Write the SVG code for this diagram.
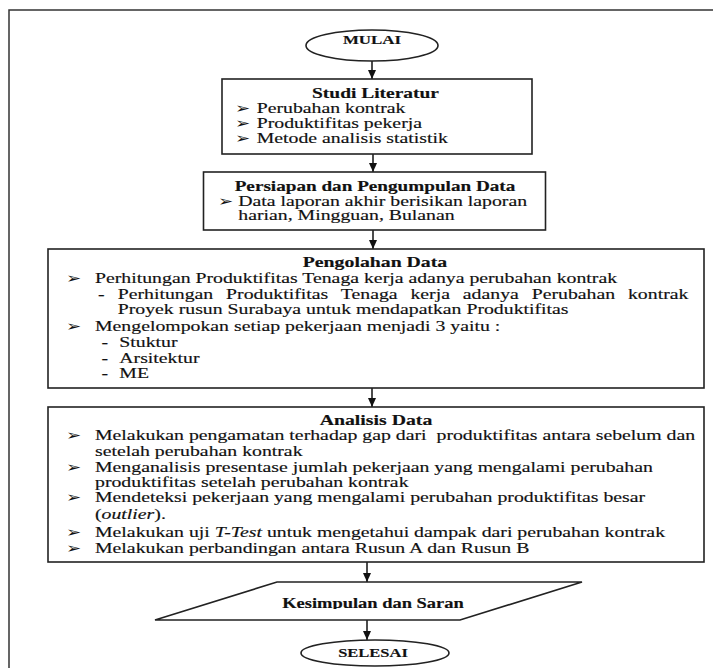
<svg xmlns="http://www.w3.org/2000/svg" width="713" height="668" viewBox="0 0 713 668">
<style>
.frame{fill:none;stroke:#333;stroke-width:1.5}
.box{fill:#fff;stroke:#222;stroke-width:1.6}
.t{font-family:"Liberation Serif","Times New Roman",serif;font-size:14px;fill:#111;stroke:#111;stroke-width:0.15}
.b{font-weight:bold}
.c{text-anchor:middle}
.i{font-style:italic}
.bl{font-family:"DejaVu Sans",sans-serif;font-size:14px;fill:#111}
.edge{stroke:#111;stroke-width:1.5;fill:none}
</style>
<defs>
<marker id="ah" markerUnits="userSpaceOnUse" markerWidth="10" markerHeight="10" viewBox="0 0 10 10" refX="9" refY="5" orient="auto">
<path d="M0,1 L9,5 L0,9 Z" fill="#111"/>
</marker>
<clipPath id="kclip"><rect x="150" y="590" width="450" height="19"/></clipPath>
</defs>
<rect class="frame" x="9" y="10" width="720" height="700"/>

<g id="connectors">
<line class="edge" x1="372" y1="61" x2="372" y2="79" marker-end="url(#ah)"/>
<line class="edge" x1="373" y1="154" x2="373" y2="172" marker-end="url(#ah)"/>
<line class="edge" x1="373" y1="230" x2="373" y2="249" marker-end="url(#ah)"/>
<line class="edge" x1="372" y1="388" x2="372" y2="407" marker-end="url(#ah)"/>
<line class="edge" x1="367" y1="562" x2="367" y2="582" marker-end="url(#ah)"/>
<line class="edge" x1="367" y1="620" x2="367" y2="640" marker-end="url(#ah)"/>
</g>

<g id="mulai">
<ellipse class="box" cx="372" cy="45.5" rx="66" ry="15.5"/>
<text class="t b c" transform="translate(372,44) scale(1.3,1)" style="font-size:13px">MULAI</text>
</g>

<g id="studi">
<rect class="box" x="222" y="79" width="310" height="75"/>
<text class="t b c" transform="translate(375.5,98) scale(1.39,1)">Studi Literatur</text>
<text class="bl" transform="translate(235,112.5) scale(1.3,1)">➢</text>
<text class="t" transform="translate(256.7,113) scale(1.414,1)">Perubahan kontrak</text>
<text class="bl" transform="translate(235,127.5) scale(1.3,1)">➢</text>
<text class="t" transform="translate(256.7,128) scale(1.414,1)">Produktifitas pekerja</text>
<text class="bl" transform="translate(235,142.5) scale(1.3,1)">➢</text>
<text class="t" transform="translate(256.7,143) scale(1.414,1)">Metode analisis statistik</text>
</g>

<g id="persiapan">
<rect class="box" x="203.5" y="172" width="342" height="58"/>
<text class="t b c" transform="translate(375,191) scale(1.37,1)">Persiapan dan Pengumpulan Data</text>
<text class="bl" transform="translate(218,205.5) scale(1.3,1)">➢</text>
<text class="t" transform="translate(238.3,206) scale(1.414,1)">Data laporan akhir berisikan laporan</text>
<text class="t" transform="translate(238.3,220) scale(1.414,1)">harian, Mingguan, Bulanan</text>
</g>

<g id="pengolahan">
<rect class="box" x="48" y="249" width="656" height="139"/>
<text class="t b c" transform="translate(375,267) scale(1.414,1)">Pengolahan Data</text>
<text class="bl" transform="translate(66,282.5) scale(1.3,1)">➢</text>
<text class="t" transform="translate(95,283) scale(1.414,1)">Perhitungan Produktifitas Tenaga kerja adanya perubahan kontrak</text>
<text class="t" transform="translate(98,299) scale(1.414,1)">-</text>
<text class="t" transform="translate(117.7,299) scale(1.414,1)" style="word-spacing:5.6px">Perhitungan Produktifitas Tenaga kerja adanya Perubahan kontrak</text>
<text class="t" transform="translate(117.7,314) scale(1.414,1)">Proyek rusun Surabaya untuk mendapatkan Produktifitas</text>
<text class="bl" transform="translate(66,330.5) scale(1.3,1)">➢</text>
<text class="t" transform="translate(95,331) scale(1.414,1)">Mengelompokan setiap pekerjaan menjadi 3 yaitu :</text>
<text class="t" transform="translate(101.5,347) scale(1.414,1)">-</text>
<text class="t" transform="translate(119.3,347) scale(1.414,1)">Stuktur</text>
<text class="t" transform="translate(101.5,363) scale(1.414,1)">-</text>
<text class="t" transform="translate(119.3,363) scale(1.414,1)">Arsitektur</text>
<text class="t" transform="translate(101.5,378) scale(1.414,1)">-</text>
<text class="t" transform="translate(119.3,378) scale(1.414,1)">ME</text>
</g>

<g id="analisis">
<rect class="box" x="48" y="407" width="656" height="155"/>
<text class="t b c" transform="translate(376,425) scale(1.414,1)">Analisis Data</text>
<text class="bl" transform="translate(66,439.5) scale(1.3,1)">➢</text>
<text class="t" transform="translate(95,440) scale(1.414,1)" xml:space="preserve">Melakukan pengamatan terhadap gap dari  produktifitas antara sebelum dan</text>
<text class="t" transform="translate(95,456) scale(1.414,1)">setelah perubahan kontrak</text>
<text class="bl" transform="translate(66,471.5) scale(1.3,1)">➢</text>
<text class="t" transform="translate(95,472) scale(1.414,1)">Menganalisis presentase jumlah pekerjaan yang mengalami perubahan</text>
<text class="t" transform="translate(95,487) scale(1.414,1)">produktifitas setelah perubahan kontrak</text>
<text class="bl" transform="translate(66,501.5) scale(1.3,1)">➢</text>
<text class="t" transform="translate(95,502) scale(1.414,1)">Mendeteksi pekerjaan yang mengalami perubahan produktifitas besar</text>
<text class="t" transform="translate(95,519) scale(1.414,1)">(<tspan class="i">outlier</tspan>).</text>
<text class="bl" transform="translate(66,536.5) scale(1.3,1)">➢</text>
<text class="t" transform="translate(95,537) scale(1.414,1)">Melakukan uji <tspan class="i">T-Test</tspan> untuk mengetahui dampak dari perubahan kontrak</text>
<text class="bl" transform="translate(66,552.5) scale(1.3,1)">➢</text>
<text class="t" transform="translate(95,553) scale(1.414,1)">Melakukan perbandingan antara Rusun A dan Rusun B</text>
</g>

<g id="kesimpulan">
<polygon class="box" points="277,582 582,582 460,620 155,620"/>
<g clip-path="url(#kclip)">
<text class="t b c" transform="translate(373,607.5) scale(1.32,1)">Kesimpulan dan Saran</text>
</g>
</g>

<g id="selesai">
<ellipse class="box" cx="375" cy="653" rx="74" ry="13"/>
<text class="t b c" transform="translate(373,657) scale(1.27,1)" style="font-size:13px">SELESAI</text>
</g>
</svg>
